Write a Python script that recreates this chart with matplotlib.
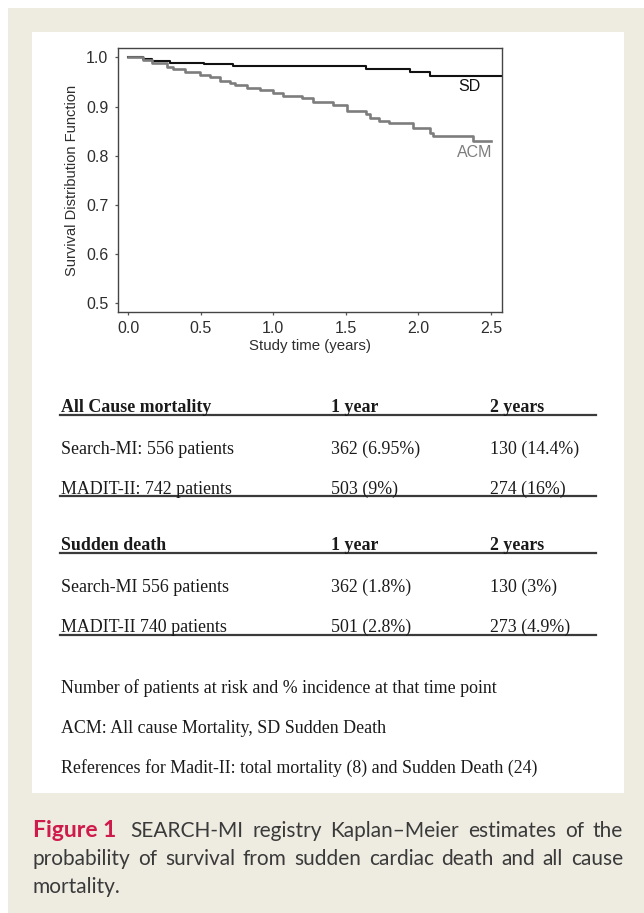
import numpy as np
import matplotlib.pyplot as plt
from matplotlib.patches import Rectangle
from matplotlib.lines import Line2D

W, H = 644, 913

# Kaplan-Meier estimates: event times (years) and survival after each step
sd_time = [0.0, 0.10, 0.16, 0.29, 0.52, 0.72, 1.64, 1.94, 2.08, 2.58]
sd_surv = [1.0, 0.997, 0.993, 0.989, 0.986, 0.982, 0.976, 0.971, 0.962, 0.962]

acm_time = [0.0, 0.10, 0.16, 0.265, 0.31, 0.39, 0.495, 0.563, 0.632, 0.70,
            0.736, 0.816, 0.908, 1.0, 1.069, 1.196, 1.276, 1.41, 1.51, 1.64,
            1.67, 1.73, 1.80, 1.96, 2.08, 2.10, 2.38, 2.50]
acm_surv = [1.0, 0.995, 0.988, 0.981, 0.976, 0.970, 0.964, 0.959, 0.952, 0.947,
            0.944, 0.938, 0.934, 0.928, 0.922, 0.918, 0.910, 0.903, 0.891, 0.885,
            0.876, 0.871, 0.866, 0.856, 0.846, 0.841, 0.829, 0.829]

xticks = [0.0, 0.5, 1.0, 1.5, 2.0, 2.5]
yticks = [0.5, 0.6, 0.7, 0.8, 0.9, 1.0]

col_heads = ['1 year', '2 years']
acm_rows = ['Search-MI: 556 patients', 'MADIT-II: 742 patients']
acm_1yr = ['362 (6.95%)', '503 (9%)']
acm_2yr = ['130 (14.4%)', '274 (16%)']
sd_rows = ['Search-MI 556 patients', 'MADIT-II 740 patients']
sd_1yr = ['362 (1.8%)', '501 (2.8%)']
sd_2yr = ['130 (3%)', '273 (4.9%)']

notes = ['Number of patients at risk and % incidence at that time point',
         'ACM: All cause Mortality, SD Sudden Death',
         'References for Madit-II: total mortality (8) and Sudden Death (24)']

cap_head = 'Figure 1'
cap_lines = [['SEARCH-MI', 'registry', 'Kaplan\u2013Meier', 'estimates', 'of', 'the'],
             ['probability', 'of', 'survival', 'from', 'sudden', 'cardiac',
              'death', 'and', 'all', 'cause'],
             ['mortality.']]

BEIGE = '#EEEBE1'
INK = '#2e2e2e'
SERIF = 'Liberation Serif'
SANS = 'Liberation Sans'


def fx(x):
    return x / W


def fy(y):
    return 1 - y / H


fig = plt.figure(figsize=(W / 100, H / 100), dpi=100, facecolor='white')
fig.add_artist(Rectangle((fx(8), 0), fx(W - 8), fy(8), transform=fig.transFigure,
                         facecolor=BEIGE, edgecolor='none', zorder=-20))
fig.add_artist(Rectangle((fx(32), fy(793)), fx(624 - 32), (793 - 32) / H,
                         transform=fig.transFigure, facecolor='white',
                         edgecolor='none', zorder=-10))

# survival plot
ax = fig.add_axes([fx(117.5), fy(312), fx(502 - 117.5), (312 - 48.5) / H])
ax.step(sd_time, sd_surv, where='post', color='#111111', lw=1.5)
ax.step(acm_time, acm_surv, where='post', color='#7d7d7d', lw=1.9)
ax.text(2.35, 0.94, 'SD', color='#111111', fontsize=11.5, family=SANS,
        ha='center', va='center')
ax.text(2.39, 0.806, 'ACM', color='#7d7d7d', fontsize=11.5, family=SANS,
        ha='center', va='center')
ax.set_xlim(-0.0745, 2.577)
ax.set_ylim(0.4823, 1.0179)
ax.set_xticks(xticks)
ax.set_yticks(yticks)
ax.set_xticklabels([f'{v:.1f}' for v in xticks], family=SANS, fontsize=11.5, color=INK)
ax.set_yticklabels([f'{v:.1f}' for v in yticks], family=SANS, fontsize=11.5, color=INK)
ax.tick_params(direction='out', length=2.5, width=0.9, color='#555555', pad=4)
for sp in ax.spines.values():
    sp.set_color('#444444')
    sp.set_linewidth(1.0)
ax.set_xlabel('Study time (years)', family=SANS, fontsize=10.8, color=INK, labelpad=2)
ax.set_ylabel('Survival Distribution Function', family=SANS, fontsize=10.5,
              color=INK, labelpad=5)


def put(x, y, s, **kw):
    kw.setdefault('family', SERIF)
    kw.setdefault('fontsize', 12.9)
    kw.setdefault('color', '#1a1a1a')
    return fig.text(fx(x), fy(y), s, va='baseline', **kw)


def rule(y, x0=60, x1=596):
    fig.add_artist(Line2D([fx(x0), fx(x1)], [fy(y), fy(y)], transform=fig.transFigure,
                          color='#3a3a3a', lw=1.6))


def block(y0, title, rows, c1, c2):
    put(61, y0, title, weight='bold')
    put(331, y0, col_heads[0], weight='bold')
    put(490, y0, col_heads[1], weight='bold')
    rule(y0 + 3)
    y = y0 + 42
    for name, a, b in zip(rows, c1, c2):
        put(61, y, name)
        put(331, y, a)
        put(490, y, b)
        last = y
        y += 40
    rule(last + 2.5)


block(411.7, 'All Cause mortality', acm_rows, acm_1yr, acm_2yr)
block(550, 'Sudden death', sd_rows, sd_1yr, sd_2yr)

for i, line in enumerate(notes):
    put(61, 693.3 + 40 * i, line)

# caption, justified between the panel edges
r = fig.canvas.get_renderer()
cap_kw = dict(family='Lato', fontsize=15, color='#3a3a3a')
head_kw = dict(family='Lato', fontsize=16.5, weight='bold', color='#CF1B4B')
cap_y = [836.7, 865, 893]
head = put(33, cap_y[0], cap_head, **head_kw)
head_end = 33 + head.get_window_extent(renderer=r).width
starts = [head_end + 14, 33, 33]
x1 = 623
for i, words in enumerate(cap_lines):
    items = [put(starts[i], cap_y[i], w, **cap_kw) for w in words]
    if i == len(cap_lines) - 1:
        continue
    widths = [t.get_window_extent(renderer=r).width for t in items]
    gap = (x1 - starts[i] - sum(widths)) / (len(items) - 1)
    x = starts[i]
    for t, w in zip(items, widths):
        t.set_x(fx(x))
        x += w + gap

fig.savefig('out.png', dpi=100, facecolor='white')
